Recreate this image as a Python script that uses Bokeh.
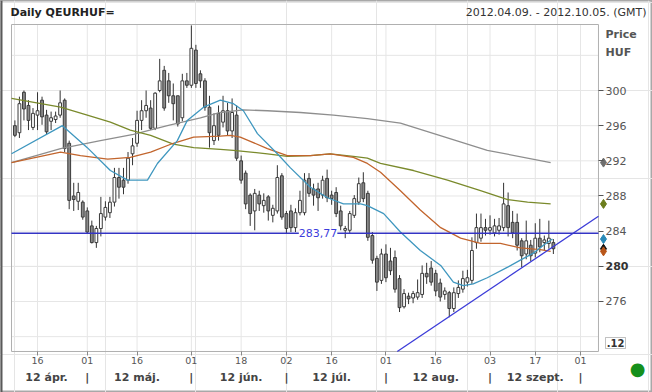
from bokeh.plotting import figure
from bokeh.models import LinearAxis, FixedTicker, Range1d, Label, BoxAnnotation
from bokeh.models import ColumnDataSource
from bokeh.embed import file_html
from bokeh.resources import INLINE

# ---- data (trading-day index 0 = 2012-04-09) ----
opens = [296.0, 295.2, 299.8, 298.3, 295.8, 297.2, 298.9, 297.2, 296.5, 296.7,
         297.2, 298.9, 294.0, 288.0, 287.4, 287.3, 286.3, 284.6, 282.7, 284.3,
         285.6, 286.1, 287.3, 290.1, 289.8, 289.8, 292.8, 294.0, 296.6, 297.7,
         298.0, 295.7, 300.0, 302.3, 301.1, 299.4, 299.4, 296.9, 301.1, 300.6,
         304.6, 301.9, 301.1, 298.1, 294.3, 297.4, 296.4, 297.7, 295.4, 297.2,
         292.0, 290.6, 288.1, 286.3, 288.1, 286.9, 287.9, 285.8, 286.3, 290.3,
         286.0, 286.3, 284.4, 286.1, 286.1, 290.0, 288.8, 288.8, 288.1, 290.0,
         288.1, 288.4, 286.3, 284.1, 284.1, 285.8, 287.3, 289.5, 288.3, 283.5,
         280.9, 278.4, 281.4, 280.6, 281.0, 278.6, 275.4, 276.6, 276.4, 276.5,
         276.8, 279.2, 279.8, 279.2, 278.1, 276.8, 277.0, 275.2, 276.9, 277.4,
         278.2, 278.4, 282.7, 283.2, 284.4, 284.1, 283.8, 284.1, 284.4, 286.9,
         285.0, 285.0, 282.9, 281.4, 282.4, 281.5, 283.2, 282.7, 282.6, 282.7]
highs = [296.6, 299.3, 300.0, 298.9, 298.0, 299.8, 299.3, 297.8, 297.6, 297.6,
         300.0, 299.1, 294.3, 289.5, 289.5, 287.5, 286.7, 285.2, 284.6, 287.9,
         287.4, 287.9, 291.2, 291.2, 291.2, 293.0, 294.6, 297.7, 298.9, 300.0,
         298.9, 299.8, 303.6, 302.8, 302.0, 300.8, 299.4, 301.9, 302.0, 307.4,
         305.2, 302.3, 301.4, 299.4, 297.4, 298.3, 299.4, 298.6, 299.1, 298.3,
         292.6, 290.9, 288.3, 288.8, 288.6, 288.3, 288.1, 287.0, 291.5, 290.6,
         286.3, 287.0, 286.6, 288.6, 290.6, 290.6, 289.4, 289.5, 290.3, 291.0,
         288.6, 289.0, 286.9, 284.6, 286.3, 288.1, 290.1, 290.7, 288.6, 283.9,
         281.2, 282.0, 282.5, 282.1, 281.8, 279.0, 277.4, 277.0, 277.2, 278.5,
         280.1, 280.4, 280.6, 279.6, 278.6, 277.6, 277.2, 277.6, 278.4, 279.5,
         279.6, 283.3, 286.0, 286.0, 285.4, 285.8, 285.4, 285.5, 289.5, 288.4,
         286.3, 286.0, 283.2, 285.2, 283.0, 284.9, 285.4, 283.5, 285.2, 283.1]
lows = [294.7, 294.6, 296.6, 295.5, 295.5, 295.5, 296.1, 295.0, 295.5, 296.3,
        296.9, 293.0, 286.5, 286.3, 286.4, 285.3, 283.7, 282.6, 282.1, 283.4,
        285.2, 285.5, 286.8, 287.7, 288.2, 289.4, 291.5, 293.6, 295.5, 296.9,
        295.5, 295.5, 299.8, 297.7, 298.6, 296.6, 295.9, 296.5, 300.3, 300.3,
        300.3, 300.3, 297.7, 293.5, 293.8, 294.3, 295.8, 294.9, 294.6, 292.0,
        289.4, 286.5, 284.6, 284.1, 286.3, 286.1, 285.2, 285.0, 286.0, 285.3,
        283.7, 283.9, 283.9, 285.8, 285.8, 287.9, 286.9, 286.3, 287.7, 287.3,
        287.0, 285.6, 284.1, 283.2, 283.8, 285.5, 287.0, 287.3, 282.9, 280.3,
        277.2, 278.0, 278.2, 279.0, 277.0, 274.8, 275.2, 275.7, 275.8, 276.2,
        276.4, 278.0, 277.8, 276.6, 276.0, 276.2, 274.2, 274.8, 276.4, 277.0,
        277.7, 278.0, 282.0, 282.8, 283.5, 283.6, 283.4, 283.6, 284.0, 283.4,
        283.2, 281.8, 279.9, 280.8, 280.6, 281.0, 281.6, 281.8, 282.0, 281.4]
closes = [294.9, 298.5, 297.9, 296.6, 297.4, 297.7, 297.0, 295.3, 296.9, 297.1,
          298.6, 293.4, 287.5, 287.6, 288.4, 285.6, 283.9, 282.7, 284.3, 286.0,
          286.7, 287.3, 290.1, 289.0, 289.0, 292.3, 293.7, 296.6, 297.7, 298.3,
          295.7, 299.7, 301.1, 298.0, 299.4, 298.5, 296.2, 301.1, 300.6, 304.8,
          300.8, 301.1, 298.1, 295.2, 296.0, 294.9, 297.7, 295.4, 297.5, 292.3,
          289.8, 287.1, 286.0, 288.3, 287.1, 287.5, 286.3, 286.6, 290.1, 285.6,
          284.3, 284.4, 286.1, 287.5, 289.8, 288.3, 288.1, 287.8, 289.8, 287.8,
          287.7, 286.0, 284.6, 284.3, 286.0, 287.7, 289.4, 287.7, 283.3, 280.7,
          278.2, 281.4, 278.7, 279.5, 277.4, 275.3, 276.9, 276.3, 276.9, 277.0,
          279.2, 278.8, 278.2, 277.2, 276.5, 277.2, 275.2, 277.0, 277.6, 278.6,
          278.7, 281.8, 284.4, 284.4, 284.1, 284.4, 284.6, 284.6, 287.1, 284.4,
          283.8, 282.4, 281.2, 282.9, 281.2, 283.2, 282.2, 283.0, 283.2, 282.0]

# moving averages (index, value)
ma_blue_x = [-0.75, 10.5, 16.0, 21.1, 24.9, 29.3, 31.5, 35.9, 38.1, 41.7, 45.4, 48.3,
             50.5, 53.6, 58.0, 60.9, 65.3, 69.1, 72.6, 76.4, 77.9, 81.5, 85.2, 89.6,
             94.1, 96.9, 99.1, 101.3, 104.4, 108.9, 111.7, 114.6, 116.8, 118.8]
ma_blue_y = [292.8, 296.0, 293.5, 290.9, 289.8, 289.8, 291.7, 294.3, 296.6, 298.1, 298.9, 298.5,
             297.7, 295.1, 292.8, 291.2, 289.0, 287.8, 287.1, 287.1, 286.9, 286.0, 283.9, 281.8,
             280.1, 278.2, 277.8, 278.0, 278.7, 279.9, 280.7, 281.5, 282.4, 283.1]
ma_orange_x = [-0.75, 10.1, 14.5, 20.5, 25.5, 30.0, 35.0, 39.5, 45.4, 47.6, 49.8, 55.8,
               60.2, 65.3, 69.7, 74.8, 77.9, 80.8, 85.2, 89.6, 94.1, 98.5, 102.9, 107.3,
               111.7, 116.1, 118.4]
ma_orange_y = [291.8, 293.0, 292.6, 292.2, 292.4, 293.0, 294.0, 294.7, 294.8, 294.9, 294.7, 293.4,
               292.6, 292.6, 292.8, 292.4, 291.7, 290.7, 288.6, 286.4, 284.4, 283.2, 282.6, 282.6,
               282.1, 281.9, 281.7]
ma_olive_x = [-0.75, 10.1, 16.0, 21.1, 25.5, 30.0, 35.0, 39.5, 45.4, 48.3, 55.8, 60.2,
              65.3, 69.7, 74.8, 77.9, 80.8, 88.1, 95.6, 102.9, 108.9, 113.3, 118.4]
ma_olive_y = [299.1, 298.1, 297.2, 296.4, 295.5, 294.9, 293.9, 293.5, 293.3, 293.2, 292.8, 292.5,
              292.6, 292.8, 292.5, 292.3, 291.7, 290.9, 289.8, 288.6, 287.6, 287.3, 287.1]
ma_gray_x = [-0.75, 10.1, 18.9, 26.2, 33.7, 41.0, 45.4, 50.5, 55.8, 63.1, 70.4, 77.9,
             85.2, 96.3, 104.4, 118.4]
ma_gray_y = [291.8, 293.4, 294.3, 295.0, 296.0, 296.9, 297.5, 297.8, 297.7, 297.5, 297.2, 296.8,
             296.3, 294.5, 293.2, 291.8]

level_value = 283.77
level_text = "283,77"
trend_x = [84.5, 128.97]
trend_y = [270.3, 285.7]

day_ticks = [5, 16, 27, 39, 50, 60, 70, 82, 93, 105, 115, 125]
day_labels = ["16", "01", "16", "01", "18", "02", "16", "01", "16", "03", "17", "01"]
month_pos = [7, 27, 50, 70, 93, 115]
month_labels = ["12 ápr.", "12 máj.", "12 jún.", "12 júl.", "12 aug.", "12 szept."]
sep_pos = [16, 39, 60, 82, 105, 125]
price_ticks = [276, 280, 284, 288, 292, 296, 300]
grid_ticks = [272, 276, 280, 284, 288, 292, 296, 300, 304]

# ---- layout constants ----
W, H = 652, 392
X_L, X_R = -0.75, 128.97        # chart area, trading-day units
Y_B, Y_T = 270.31, 307.51       # chart area, price units
PX_X = 4.525                    # px per trading day
PX_Y = 8.79                     # px per HUF
CHART_L, CHART_T = 11, 24       # chart area top-left on canvas
FONT = "DejaVu Sans"

x0 = X_L - CHART_L / PX_X
y1 = Y_T + CHART_T / PX_Y

idx = list(range(len(opens)))
up = [c >= o for o, c in zip(opens, closes)]
src = ColumnDataSource(dict(
    x=idx, high=highs, low=lows,
    top=[max(o, c) for o, c in zip(opens, closes)],
    bottom=[min(o, c) for o, c in zip(opens, closes)],
    fill=["#ffffff" if u else "#8a8a8a" for u in up],
))

p = figure(width=W, height=H, output_backend="svg", toolbar_location=None, title=None,
           x_range=Range1d(x0, x0 + W / PX_X), y_range=Range1d(y1 - H / PX_Y, y1),
           x_axis_location=None, y_axis_location=None,
           min_border=0, min_border_left=0, min_border_right=0,
           min_border_top=0, min_border_bottom=0)
p.background_fill_color = "#ffffff"
p.border_fill_color = "#ffffff"
p.outline_line_color = "#a8a8a8"
p.outline_line_width = 2
p.add_layout(BoxAnnotation(left=0, right=2, left_units="screen", right_units="screen",
                           fill_color="#5a5a5a", fill_alpha=1, line_color=None))

# grid + chart border
nd, ng = len(day_ticks), len(grid_ticks)
p.segment(x0=day_ticks, y0=[Y_B] * nd, x1=day_ticks, y1=[Y_T] * nd,
          line_color="#e6e6e6", line_width=1)
p.segment(x0=[X_L] * ng, y0=grid_ticks, x1=[X_R] * ng, y1=grid_ticks,
          line_color="#e6e6e6", line_width=1)
p.quad(left=[X_L], right=[X_R], bottom=[Y_B], top=[Y_T], fill_color=None,
       line_color="#b0b0b0", line_width=1)

# axes (fixed at the chart edges)
yax = LinearAxis(fixed_location=X_R, ticker=FixedTicker(ticks=price_ticks),
                 major_label_overrides={280: ""})
yax.axis_line_color = None
yax.major_tick_out = 5
yax.major_tick_in = 0
yax.major_tick_line_color = "#555555"
yax.minor_tick_line_color = None
yax.major_label_standoff = 2
yax.major_label_text_font = FONT
yax.major_label_text_font_size = "11px"
yax.major_label_text_color = "#555555"
p.add_layout(yax, "right")

xax = LinearAxis(fixed_location=Y_B, ticker=FixedTicker(ticks=day_ticks),
                 major_label_overrides=dict(zip(day_ticks, day_labels)))
xax.axis_line_color = None
xax.major_tick_out = 4
xax.major_tick_in = 0
xax.major_tick_line_color = "#888888"
xax.minor_tick_line_color = None
xax.major_label_standoff = 2
xax.major_label_text_font = FONT
xax.major_label_text_font_size = "9.5px"
xax.major_label_text_color = "#555555"
p.add_layout(xax, "below")

mon_over = dict(zip(month_pos, month_labels))
mon_over.update({s: "|" for s in sep_pos})
max2 = LinearAxis(fixed_location=Y_B, ticker=FixedTicker(ticks=month_pos + sep_pos),
                  major_label_overrides=mon_over)
max2.axis_line_color = None
max2.major_tick_line_color = None
max2.minor_tick_line_color = None
max2.major_tick_out = 0
max2.major_label_standoff = 20
max2.major_label_text_font = FONT
max2.major_label_text_font_size = "11px"
max2.major_label_text_font_style = "bold"
max2.major_label_text_color = "#444444"
p.add_layout(max2, "below")

# candles
p.segment(x0="x", y0="high", x1="x", y1="low", source=src, line_color="#333333", line_width=1)
p.vbar(x="x", width=0.62, top="top", bottom="bottom", source=src,
       fill_color="fill", line_color="#3a3a3a", line_width=1)

# moving averages
p.line(ma_gray_x, ma_gray_y, line_color="#8e8e8e", line_width=1.3)
p.line(ma_olive_x, ma_olive_y, line_color="#7a8a2c", line_width=1.3)
p.line(ma_orange_x, ma_orange_y, line_color="#c2652d", line_width=1.3)
p.line(ma_blue_x, ma_blue_y, line_color="#3f97bf", line_width=1.3)

# trend line and level line
p.line(trend_x, trend_y, line_color="#3b3bd8", line_width=1.3)
p.line([X_L, X_R], [level_value, level_value], line_color="#3434c4", line_width=1.5)
p.add_layout(Label(x=67, y=level_value, text=level_text, text_align="center",
                   text_baseline="middle", text_color="#3c3cdc", text_font=FONT,
                   text_font_size="11px", background_fill_color="#ffffff"))

# end-value markers on the price axis
X_MARK = X_R + 5 / PX_X
mk_vals = [ma_gray_y[-1], ma_olive_y[-1], ma_blue_y[-1], closes[-1], ma_orange_y[-1]]
mk_cols = ["#6e6e6e", "#6b7d1c", "#2a8ab8", "#111111", "#b9561a"]
p.scatter([X_MARK] * len(mk_vals), mk_vals, marker="diamond", size=9,
          fill_color=mk_cols, line_color=mk_cols)

# texts around the chart (screen units: from bottom-left of canvas)
def txt(x, y, s, size="11px", bold=False, color="#333333", align="left", yunits="screen"):
    p.add_layout(Label(x=x, y=y, x_units="screen", y_units=yunits, text=s,
                       text_font=FONT, text_font_size=size,
                       text_font_style="bold" if bold else "normal",
                       text_color=color, text_align=align, text_baseline="middle"))

txt(10, H - 12, "Daily QEURHUF=", bold=True, color="#222222")
txt(646, H - 12, "2012.04.09. - 2012.10.05. (GMT)", align="right")
txt(605, H - 34, "Price", bold=True, color="#555555")
txt(605, H - 52, "HUF", bold=True, color="#555555")
txt(605, 280, "280", bold=True, color="#333333", yunits="data")

# small boxed ".12" tag at the bottom of the price axis
p.add_layout(BoxAnnotation(left=605, right=625, bottom=H - 348, top=H - 337,
                           left_units="screen", right_units="screen",
                           bottom_units="screen", top_units="screen",
                           fill_color="#ffffff", fill_alpha=1,
                           line_color="#333333", line_width=1))
txt(615, H - 342.5, ".12", size="10px", bold=True, color="#333333", align="center")

p.add_layout(Label(x=637, y=H - 368, x_units="screen", y_units="screen", text="●",
                   text_align="center", text_baseline="middle", text_color="#15901c",
                   text_font=FONT, text_font_size="18px"))

open("out.html", "w").write(file_html(p, INLINE))
